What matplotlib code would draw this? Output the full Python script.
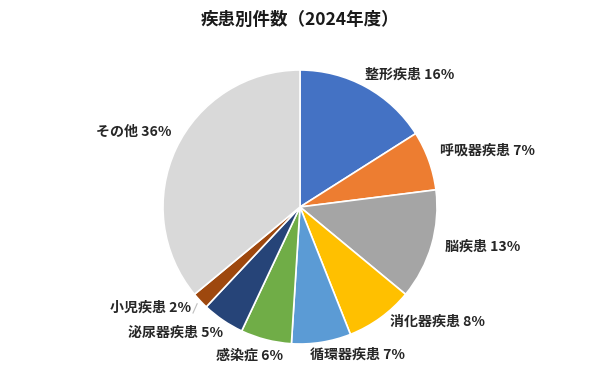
import matplotlib
matplotlib.use("Agg")
import matplotlib.pyplot as plt
import numpy as np

plt.rcParams['font.family'] = ['Noto Sans CJK JP', 'DejaVu Sans']

title = "疾患別件数（2024年度）"
categories = ["整形疾患", "呼吸器疾患", "脳疾患", "消化器疾患", "循環器疾患",
              "感染症", "泌尿器疾患", "小児疾患", "その他"]
shares = [16, 7, 13, 8, 7, 6, 5, 2, 36]
colors = ["#4472C4", "#ED7D31", "#A5A5A5", "#FFC000", "#5B9BD5",
          "#70AD47", "#264478", "#9E480E", "#D9D9D9"]

# label placement (figure pixel coords from top-left, horizontal alignment)
label_layout = [
    (365, 75, "left"),
    (440, 151, "left"),
    (445, 247, "left"),
    (390, 322, "left"),
    (310, 355, "left"),
    (283, 356, "right"),
    (223, 333, "right"),
    (191, 308, "right"),
    (171, 132, "right"),
]

W, H = 600, 376
fig = plt.figure(figsize=(W / 100, H / 100), dpi=100)
ax = fig.add_axes([0, 0, 1, 1])

cx, cy, r = 300, H - 207, 137
wedges, _ = ax.pie(shares, colors=colors, startangle=90, counterclock=False,
                   center=(cx, cy), radius=r, frame=True,
                   wedgeprops=dict(edgecolor="white", linewidth=1.2))
ax.set_xlim(0, W)
ax.set_ylim(0, H)
ax.axis("off")

for name, val, (lx, ly, ha) in zip(categories, shares, label_layout):
    ax.text(lx, H - ly, f"{name} {val}%", ha=ha, va="center",
            fontsize=10.1, fontweight="bold", color="#262626")

# leader line for the small slice
w = wedges[7]
mid = np.deg2rad((w.theta1 + w.theta2) / 2)
ex, ey = cx + r * np.cos(mid), cy + r * np.sin(mid)
ax.plot([ex - 3, 193, 193], [ey - 3, H - 313, H - 313], color="#BFBFBF", lw=0.8)

fig.text(0.5, 1 - 20 / H, title, ha="center", va="center",
         fontsize=12.6, fontweight="bold", color="#1a1a1a")

fig.savefig("out.png", dpi=100, facecolor="white")
